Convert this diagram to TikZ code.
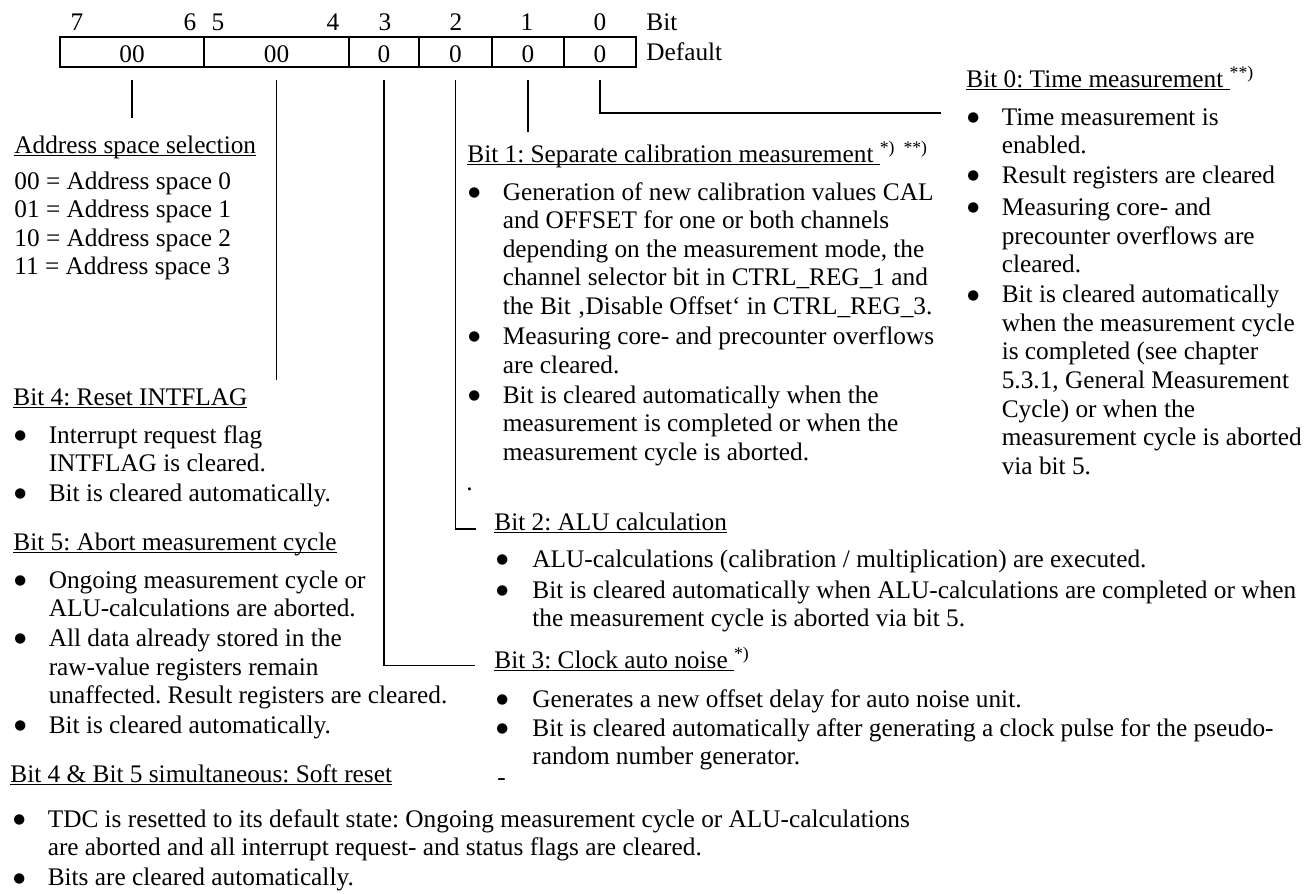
\documentclass[tikz,border=0pt]{standalone}
\usepackage{fontspec}
\setmainfont{Liberation Serif}
\newfontfamily\dotfont{DejaVu Sans}
\frenchspacing
\newcommand\mainfs{\fontsize{12.65pt}{14.3pt}\selectfont}
\newsavebox\ulbox
% underline at a fixed depth below the baseline
\newcommand\ulin[1]{\sbox\ulbox{#1}\rlap{\rule[-1.6pt]{\wd\ulbox}{0.6pt}}\usebox\ulbox}
% list bullet followed by the text indent
\newcommand\bul[1][17.2pt]{\makebox[#1][l]{\raisebox{1.8pt}{\dotfont\fontsize{6.8pt}{7pt}\selectfont ●}}}
% rows of text, first baseline on the node's base
\newcommand\rows[1]{\begin{tabular}[t]{@{}l@{}l@{}}#1\end{tabular}}
\begin{document}
\begin{tikzpicture}[x=0.5pt,y=-0.5pt,
  txt/.style={inner sep=0pt, anchor=base west, font=\mainfs},
  num/.style={inner sep=0pt, anchor=base, font=\mainfs},
  cell/.style={draw, line width=0.9pt, minimum height=15pt, inner sep=0pt,
               text height=10pt, text depth=0pt, font=\mainfs},
  conn/.style={line width=0.9pt}]
\useasboundingbox (0,0) rectangle (1314,894);

% ---- bit numbers ----
\node[num] (n7) at (77,31) {7};
\node[num] (n6) at (190,31) {6};
\node[num] (n5) at (218,31) {5};
\node[num] (n4) at (333,31) {4};
\node[num] (n3) at (385,31) {3};
\node[num] (n2) at (456,31) {2};
\node[num] (n1) at (527,31) {1};
\node[num] (n0) at (600,31) {0};
\node[txt] (bitlbl) at (646,31) {Bit};

% ---- register cells ----
\node[cell, minimum width=72pt]   (c76) at (132,52)   {00};
\node[cell, minimum width=72.5pt] (c54) at (276.5,52) {00};
\node[cell, minimum width=35pt]   (c3)  at (384,52)   {0};
\node[cell, minimum width=36.5pt] (c2)  at (455.5,52) {0};
\node[cell, minimum width=36pt]   (c1)  at (528,52)   {0};
\node[cell, minimum width=36pt]   (c0)  at (600,52)   {0};
\node[txt] (deflbl) at (646,61) {Default};

% ---- bits 7..6: address space ----
\node[txt] (hA) at (14,153) {\ulin{Address space selection}};
\node[txt] (addr) at (14,189) {\rows{00 = Address space 0\\ 01 = Address space 1\\ 10 = Address space 2\\ 11 = Address space 3}};

% ---- bit 4 ----
\node[txt] (h4) at (13,405) {\ulin{Bit 4: Reset INTFLAG}};
\node[txt] (b4) at (14,443) {\rows{\bul & Interrupt request flag\\ & INTFLAG is cleared.\\[0.6pt]
  \bul & Bit is cleared automatically.}};

% ---- bit 5 ----
\node[txt] (h5) at (13,550) {\ulin{Bit 5: Abort measurement cycle}};
\node[txt] (b5) at (14,588) {\rows{\bul & Ongoing measurement cycle or\\ & ALU-calculations are aborted.\\[0.6pt]
  \bul & All data already stored in the\\ & raw-value registers remain\\ & unaffected. Result registers are cleared.\\[0.6pt]
  \bul & Bit is cleared automatically.}};

% ---- bits 4 and 5 together ----
\node[txt] (h45) at (10,782) {\ulin{Bit 4 \& Bit 5 simultaneous: Soft reset}};
\node[txt] (b45) at (13,827) {\rows{\bul & TDC is resetted to its default state: Ongoing measurement cycle or ALU-calculations\\ & are aborted and all interrupt request- and status flags are cleared.\\[0.7pt]
  \bul & Bits are cleared automatically.}};

% ---- bit 1 ----
\node[txt] (h1) at (467,162) {\ulin{Bit 1: Separate calibration measurement\ }\textsuperscript{*)}\hspace{4pt}\textsuperscript{**)}};
\node[txt] (b1) at (468,200) {\rows{\bul & Generation of new calibration values CAL\\ & and OFFSET for one or both channels\\ & depending on the measurement mode, the\\ & channel selector bit in CTRL\_REG\_1 and\\ & the Bit ‚Disable Offset‘ in CTRL\_REG\_3.\\[0.7pt]
  \bul & Measuring core- and precounter overflows\\ & are cleared.\\[0.7pt]
  \bul & Bit is cleared automatically when the\\ & measurement is completed or when the\\ & measurement cycle is aborted.}};
\node[txt] (dot) at (466,490) {.};

% ---- bit 2 ----
\node[txt] (h2) at (494,530) {\ulin{Bit 2: ALU calculation}};
\node[txt] (b2) at (496,567) {\rows{\bul[18pt] & ALU-calculations (calibration / multiplication) are executed.\\[1.2pt]
  \bul[18pt] & Bit is cleared automatically when ALU-calculations are completed or when\\ & the measurement cycle is aborted via bit 5.}};

% ---- bit 3 ----
\node[txt] (h3) at (494,668) {\ulin{Bit 3: Clock auto noise\ }\textsuperscript{*)}};
\node[txt] (b3) at (496,707) {\rows{\bul[18pt] & Generates a new offset delay for auto noise unit.\\[0.3pt]
  \bul[18pt] & Bit is cleared automatically after generating a clock pulse for the pseudo-\\ & random number generator.}};
\node[txt] (dash) at (497,785) {-};

% ---- bit 0 ----
\node[txt] (h0) at (966,87) {\ulin{Bit 0: Time measurement\ }\textsuperscript{**)}};
\node[txt] (b0) at (967,125) {\rows{\bul & Time measurement is\\ & enabled.\\[0.7pt]
  \bul & Result registers are cleared\\[1.7pt]
  \bul & Measuring core- and\\ & precounter overflows are\\ & cleared.\\[0.7pt]
  \bul & Bit is cleared automatically\\ & when the measurement cycle\\ & is completed (see chapter\\ & 5.3.1, General Measurement\\ & Cycle) or when the\\ & measurement cycle is aborted\\ & via bit 5.}};

% ---- connectors from the cells ----
\coordinate (e76) at (132,118);
\coordinate (e54) at (276.5,380);
\coordinate (e1)  at (528,132);
\coordinate (e0)  at (941,113);
\draw[conn] ([yshift=-6pt]c76.south) -- (e76);
\draw[conn] ([yshift=-6pt]c54.south) -- (e54);
\draw[conn] ([yshift=-6pt]c3.south) |- ([xshift=-9.5pt,yshift=1.25pt]h3.base west);
\draw[conn] ([yshift=-6pt]c2.south) |- ([xshift=-9pt,yshift=0.5pt]h2.base west);
\draw[conn] ([yshift=-6pt]c1.south) -- (e1);
\draw[conn] ([yshift=-6pt]c0.south) |- (e0);
\end{tikzpicture}
\end{document}
